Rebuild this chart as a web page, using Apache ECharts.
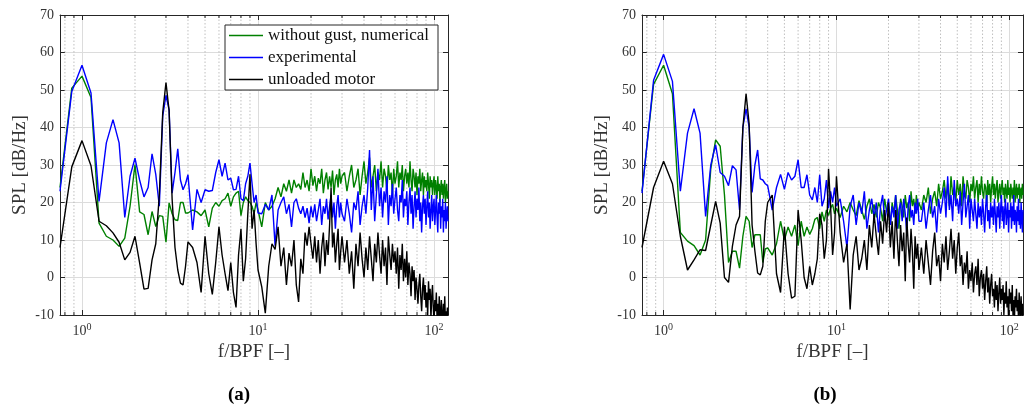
<!DOCTYPE html>
<html>
<head>
<meta charset="utf-8">
<script src="https://cdn.jsdelivr.net/npm/echarts@6/dist/echarts.min.js"></script>
<style>
html,body{margin:0;padding:0;background:#fff;}
#chart{width:1026px;height:406px;}
</style>
</head>
<body>
<div id="chart"></div>
<script>
// ---------- frequency bins (f/BPF) ----------
function bins(a, b, step) { const o = []; for (let k = 0; a + k * step <= b + 1e-9; k++) o.push(+(a + k * step).toFixed(4)); return o; }
const fLow = bins(0.75, 4.0, 0.125);   // 27
const fMid = bins(4.25, 10, 0.25);     // 24
const fHi1 = bins(10.5, 30, 0.5);      // 40
const fHi2 = bins(31, 120, 1);         // 90

const seriesNames = ['without gust, numerical', 'experimental', 'unloaded motor'];
const minorGrid = [0.8, 0.9, 2, 3, 4, 5, 6, 7, 8, 9, 20, 30, 40, 50, 60, 70, 80, 90];
const yTicks = [-10, 0, 10, 20, 30, 40, 50, 60, 70];

// ---------- panel (a) ----------
const aGreenLow = [24, 50.5, 53.7, 48, 14.5, 11, 10, 8.3, 10.5, 19, 30.1, 17.5, 16.8, 11.4, 17.6, 13.6, 16.5, 16.3, 9.4, 19.9, 17, 15.4, 15.2, 20, 20, 17.2, 17.2];
const aGreenMid = [18, 17.5, 16.5, 18, 13.5, 18.5, 20, 19, 20.5, 21, 22.5, 19, 21.5, 22.5, 23, 16.5, 20, 21.5, 20.5, 20, 19, 17, 20, 18];
const aGreenHi1 = [13.5, 20, 18, 19, 21, 24, 21.5, 25, 23, 26, 22.5, 26, 24, 25, 23.5, 28, 24, 26, 23, 29, 24.5, 27, 23, 26.5, 25, 29, 22.5, 26, 28, 23.5, 27, 24, 28.5, 22, 26, 27.5, 24, 29, 25, 27];
const aGreenHi2 = [28, 23, 27, 30, 24, 26, 29, 22, 27, 31,
  25, 28, 32, 24, 27, 30, 23, 28, 26, 31,
  24, 29, 27, 23, 30, 26, 28, 22, 29, 25,
  27, 31, 24, 28, 26, 30, 23, 27, 29, 25,
  28, 24, 31, 26, 23, 29, 27, 24, 28, 22,
  27, 25, 29, 23, 26, 28, 22, 27, 24, 26,
  23, 28, 25, 21, 27, 24, 26, 22, 25, 27,
  22, 26, 24, 21, 27, 23, 25, 20, 24, 26,
  22, 25, 21, 24, 26, 20, 23, 25, 21, 23];

const aBlueLow = [23, 49.6, 56.6, 49.2, 20.3, 35.9, 42.1, 35.9, 16, 27, 31.8, 26, 21.5, 24, 33, 27.5, 19, 43, 48.6, 44.7, 22.5, 28, 34.3, 26, 23.4, 25, 27.4];
const aBlueMid = [12.7, 23.5, 20, 23.4, 23, 23.2, 28, 31.4, 27, 30.5, 26, 26.5, 23.4, 23.5, 27, 21, 20.5, 25, 27, 30.5, 25, 20, 22, 17.2];
const aBlueHi1 = [17, 19.5, 18, 22, 8.5, 18, 20, 21.5, 17, 19.5, 13.5, 20, 21, 18.5, 17, 19, 16, 18.5, 14.5, 19, 16, 19.5, 15, 18, 21, 14, 19, 17, 21, 15.5, 19, 22, 16, 20, 13, 19, 22, 16, 20, 17];
const aBlueHi2 = [15, 21, 17, 12, 20, 18, 23, 14, 19, 22,
  17, 24, 34, 18, 27, 15, 22, 29, 19, 24,
  16, 23, 20, 27, 14, 22, 19, 25, 17, 21,
  24, 18, 15, 22, 20, 26, 16, 21, 19, 23,
  14, 20, 24, 17, 22, 13, 19, 23, 16, 21,
  18, 24, 15, 20, 12, 19, 22, 17, 21, 14,
  19, 23, 16, 20, 13, 18, 22, 15, 19, 21,
  14, 18, 22, 16, 12, 20, 17, 21, 13, 19,
  16, 21, 12, 18, 15, 20, 13, 17, 19, 15];

const aBlackLow = [8, 29.5, 36.5, 29.8, 15, 13.8, 11.9, 9.4, 4.7, 6.7, 11, 3.9, -3.1, -2.9, 4.7, 9, 22, 44, 52, 44.5, 21, 8, 2, -1.5, -2, 3, 9.5];
const aBlackMid = [8, 4, -4, 11, 1, -4.5, 4, 13.5, 6, 1, -3.5, 4, -4, -8, 6, 13, -1, 5, 17, 27.5, 13, 18, 9, 2];
const aBlackHi1 = [-2.5, -9.5, 3, 9, 7.5, 13.5, 3, 8, -2, 6.5, 3, 10, -2, -6.5, 5, 1, 12, 8.5, 13.5, 9, 5, 11, 4, 10, 1, 8, 12, 3, 10, 6, 14, 24, 8, 12, 4, 9, 13, 2, 7, 11];
const aBlackHi2 = [4, 10, 1, 7, -3, 9, 3, 12, 5, 0,
  8, 2, 11, 5, -1, 9, 4, 12, 6, 1,
  10, 3, 8, -2, 11, 6, 2, 9, 4, 7,
  1, 8, -3, 6, 2, 9, -1, 5, 0, 7,
  -2, 4, 1, -5, 3, -1, 2, -6, 0, -3,
  -7, -2, 1, -5, -9, -3, 0, -6, -2, -8,
  -4, -10, -1, -6, -3, -11, -5, -2, -8, -12,
  -6, -9, -4, -11, -7, -13, -5, -9, -12, -6,
  -10, -14, -7, -11, -5, -12, -9, -13, -8, -11];

// ---------- panel (b) ----------
const bGreenLow = [23, 51.5, 56.6, 49, 12, 9.7, 8.5, 6, 10, 29, 36.7, 35, 22, 4, 7, 7, 2.5, 11, 16.3, 15, 8, 11.4, 11.4, 11.4, 4, 7.6, 7.9];
const bGreenMid = [6, 9, 15, 10, 13.5, 11, 14, 8.5, 15, 11, 13.5, 11.5, 13, 15.5, 16, 13, 17.5, 15, 18, 16.5, 18.5, 19.5, 17, 18.5];
const bGreenHi1 = [16, 19, 17.5, 20, 18, 16.5, 20.5, 18, 15.5, 19, 21, 17, 19.5, 16, 20, 18.5, 15, 21, 17.5, 19, 14, 20, 17, 22, 18, 13, 21, 19, 16, 22, 18.5, 20, 15, 23, 19, 21, 17, 22, 18, 20];
const bGreenHi2 = [18, 22, 20, 24, 17, 21, 23, 19, 25, 21,
  23, 26, 21, 25, 19, 27, 22, 24, 20, 26,
  22, 25, 19, 27, 23, 21, 26, 24, 20, 25,
  23, 27, 21, 24, 26, 20, 25, 22, 27, 23,
  21, 25, 24, 19, 26, 22, 25, 20, 24, 27,
  22, 25, 21, 24, 26, 20, 23, 25, 21, 24,
  26, 22, 24, 20, 25, 23, 21, 26, 22, 24,
  20, 25, 23, 21, 24, 22, 26, 20, 23, 25,
  21, 24, 22, 25, 20, 23, 24, 21, 25, 22];

const bBlueLow = [22.5, 52.6, 59.5, 52.3, 23, 38.5, 45, 38.5, 16.3, 30, 35.4, 28, 27, 24.5, 29.8, 28.7, 18, 40, 45, 40, 22.7, 30, 34, 26.3, 26, 25, 24.5];
const bBlueMid = [18, 24, 27.5, 23.5, 28, 26, 27, 31.4, 24, 24, 27.4, 22, 20.7, 24, 20, 27.4, 19, 21, 26, 18.5, 23, 20, 24, 19];
const bBlueHi1 = [21, 15, 8, 19, 22, 14, 20, 17, 23, 13, 18, 21, 16, 20, 12, 19, 22, 15, 18, 21, 14, 19, 16, 22, 13, 18, 20, 15, 21, 17, 12, 19, 22, 16, 18, 14, 20, 17, 21, 15];
const bBlueHi2 = [15, 20, 13, 18, 22, 16, 19, 12, 21, 17,
  20, 24, 16, 27, 18, 22, 15, 26, 19, 21,
  17, 23, 14, 20, 25, 16, 19, 22, 13, 21,
  18, 15, 21, 17, 13, 20, 16, 19, 14, 21,
  17, 12, 19, 22, 15, 18, 13, 20, 16, 19,
  14, 21, 17, 12, 19, 16, 20, 13, 18, 22,
  15, 19, 13, 18, 21, 14, 17, 20, 12, 18,
  16, 20, 13, 19, 15, 22, 14, 18, 17, 12,
  19, 15, 21, 14, 18, 13, 20, 16, 12, 18];

const bBlackLow = [8, 24, 31, 25, 11, 2, 4.7, 7.4, 7.2, 14, 20.3, 14.5, 0, -1.3, 8.3, 14, 16.3, 40, 49, 41, 14, 7, 1.2, 0.7, 3, 15, 20];
const bBlackMid = [22, 1, -4, 13.5, 1, -5.5, -5, 18, 10, 0, -3, 3, -2, 1, 5, 17, 14, 5, 10, 29, 19, 6, 12, 27];
const bBlackHi1 = [12, 4, 9, -8.5, 6, 11, 2, 5, 10, 2, 14, 8, 17, 11, 6, 15, 9, 18, 12, 20, 8, 15, 5, 18, 10, 3, 14, 7, 12, -1, 16, 9, 4, 13, 7, -3, 11, 5, 9, 2];
const bBlackHi2 = [8, 1, 10, 4, -2, 7, 12, 3, 6, -1,
  9, 4, 11, 2, 7, 13, 5, 10, 1, 8,
  12, 3, 6, -2, 4, 1, 7, -3, 2, -1,
  4, -4, 1, 3, -2, 5, -5, 0, 2, -3,
  1, -6, -1, 3, -4, 0, -7, -2, 1, -5,
  -3, -8, -1, -6, -2, -9, -4, 0, -7, -3,
  -6, -2, -10, -4, -7, -1, -8, -5, -11, -3,
  -7, -4, -9, -2, -10, -6, -12, -5, -8, -3,
  -9, -6, -11, -4, -8, -13, -5, -10, -7, -12];

// ---------- assemble ----------
const FREQ = [].concat(fLow, fMid, fHi1, fHi2);
function pairs(vals) { const n = Math.min(FREQ.length, vals.length); const o = []; for (let i = 0; i < n; i++) o.push([FREQ[i], vals[i]]); return o; }
const aGreen = [].concat(aGreenLow, aGreenMid, aGreenHi1, aGreenHi2);
const aBlue = [].concat(aBlueLow, aBlueMid, aBlueHi1, aBlueHi2);
const aBlack = [].concat(aBlackLow, aBlackMid, aBlackHi1, aBlackHi2);
const bGreen = [].concat(bGreenLow, bGreenMid, bGreenHi1, bGreenHi2);
const bBlue = [].concat(bBlueLow, bBlueMid, bBlueHi1, bBlueHi2);
const bBlack = [].concat(bBlackLow, bBlackMid, bBlackHi1, bBlackHi2);

const FONT = '"Liberation Serif", "Times New Roman", serif';
const AX = '#262626';
const COLORS = ['#008000', '#0000ff', '#000000'];

function xLabel(v) {
  const l = Math.log10(v), e = Math.round(l);
  if (Math.abs(l - e) > 1e-6) return '';
  return '{b|10}{s|' + e + '}';
}

function xAxes(gi) {
  return [
    { type: 'log', logBase: 10, gridIndex: gi, min: 0.75, max: 120, position: 'bottom',
      name: 'f/BPF [\u2013]', nameLocation: 'middle', nameGap: 27,
      nameTextStyle: { fontFamily: FONT, fontSize: 19, color: '#333' },
      axisLine: { show: true, onZero: false, lineStyle: { color: AX, width: 1 } },
      axisTick: { show: true, inside: true, length: 5, lineStyle: { color: AX } },
      axisLabel: { formatter: xLabel, margin: 7, color: '#333',
        rich: { b: { fontFamily: FONT, fontSize: 14, color: '#333' },
                s: { fontFamily: FONT, fontSize: 10, color: '#333', padding: [0, 0, 8, 0] } } },
      splitLine: { show: true, lineStyle: { color: '#dcdcdc', width: 1 } } },
    { type: 'log', logBase: 10, gridIndex: gi, min: 0.75, max: 120, position: 'top',
      axisLine: { show: true, onZero: false, lineStyle: { color: AX, width: 1 } },
      axisTick: { show: true, inside: true, length: 5, lineStyle: { color: AX } },
      axisLabel: { show: false }, splitLine: { show: false } }
  ];
}
function yAxes(gi) {
  return [
    { type: 'value', gridIndex: gi, min: -10, max: 70, interval: 10, position: 'left',
      name: 'SPL [dB/Hz]', nameLocation: 'middle', nameGap: 30, nameRotate: 90,
      nameTextStyle: { fontFamily: FONT, fontSize: 19, color: '#333' },
      axisLine: { show: true, onZero: false, lineStyle: { color: AX, width: 1 } },
      axisTick: { show: true, inside: true, length: 5, lineStyle: { color: AX } },
      axisLabel: { fontFamily: FONT, fontSize: 14, color: '#333', margin: 6 },
      splitLine: { show: true, lineStyle: { color: '#dcdcdc', width: 1 } } },
    { type: 'value', gridIndex: gi, min: -10, max: 70, interval: 10, position: 'right',
      axisLine: { show: true, onZero: false, lineStyle: { color: AX, width: 1 } },
      axisTick: { show: true, inside: true, length: 5, lineStyle: { color: AX } },
      axisLabel: { show: false }, splitLine: { show: false } }
  ];
}

function minorSeries(xi, yi) {
  return {
    type: 'custom', xAxisIndex: xi, yAxisIndex: yi, silent: true, z: 1,
    data: minorGrid.map(v => [v, -10]),
    renderItem: function (params, api) {
      const f = api.value(0);
      const bot = api.coord([f, -10]);
      const top = api.coord([f, 70]);
      return { type: 'group', children: [
        { type: 'line', shape: { x1: bot[0], y1: bot[1], x2: top[0], y2: top[1] },
          style: { stroke: '#b0b0b0', lineWidth: 0.8, lineDash: [1.5, 2] } },
        { type: 'line', shape: { x1: bot[0], y1: bot[1], x2: bot[0], y2: bot[1] - 3 },
          style: { stroke: AX, lineWidth: 1 } },
        { type: 'line', shape: { x1: top[0], y1: top[1], x2: top[0], y2: top[1] + 3 },
          style: { stroke: AX, lineWidth: 1 } }
      ] };
    }
  };
}
function lineSeries(name, vals, color, xi, yi) {
  return { type: 'line', name: name, data: pairs(vals), xAxisIndex: xi, yAxisIndex: yi,
    showSymbol: false, symbol: 'none', z: 3, clip: true,
    lineStyle: { color: color, width: 1.4 }, itemStyle: { color: color } };
}

const chart = echarts.init(document.getElementById('chart'), null, { renderer: 'canvas' });
chart.setOption({
  animation: false,
  backgroundColor: '#fff',
  grid: [
    { left: 60, top: 15, width: 388, height: 300 },
    { left: 642, top: 15, width: 388, height: 300 }
  ],
  xAxis: [].concat(xAxes(0), xAxes(1)),
  yAxis: [].concat(yAxes(0), yAxes(1)),
  legend: {
    data: seriesNames, orient: 'vertical', left: 225, top: 25,
    icon: 'rect', itemWidth: 34, itemHeight: 1.6, itemGap: 5,
    padding: [2, 9, 2, 4], borderColor: AX, borderWidth: 1, backgroundColor: '#fff',
    textStyle: { fontFamily: FONT, fontSize: 17, color: '#111', lineHeight: 16 },
    selectedMode: false
  },
  title: [
    { text: '(a)', left: 234, top: 381, textAlign: 'center',
      textStyle: { fontFamily: FONT, fontSize: 19, fontWeight: 'bold', color: '#000' } },
    { text: '(b)', left: 820, top: 381, textAlign: 'center',
      textStyle: { fontFamily: FONT, fontSize: 19, fontWeight: 'bold', color: '#000' } }
  ],
  series: [
    minorSeries(0, 0),
    lineSeries(seriesNames[0], aGreen, COLORS[0], 0, 0),
    lineSeries(seriesNames[1], aBlue, COLORS[1], 0, 0),
    lineSeries(seriesNames[2], aBlack, COLORS[2], 0, 0),
    minorSeries(2, 2),
    lineSeries(seriesNames[0], bGreen, COLORS[0], 2, 2),
    lineSeries(seriesNames[1], bBlue, COLORS[1], 2, 2),
    lineSeries(seriesNames[2], bBlack, COLORS[2], 2, 2)
  ]
});
</script>
</body>
</html>
